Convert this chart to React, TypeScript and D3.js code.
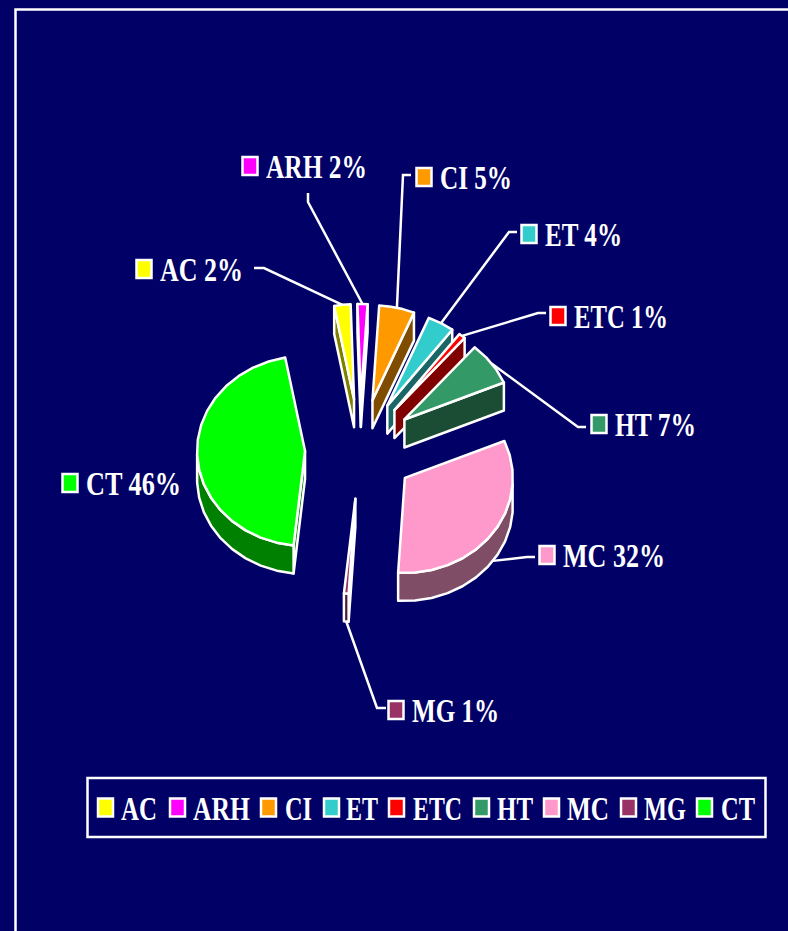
import * as d3 from "d3";

const categories = ["AC", "ARH", "CI", "ET", "ETC", "HT", "MC", "MG", "CT"];
const shares = [2.45, 1.5, 5.3, 4.0, 1.0, 7.4, 32.45, 0.7, 45.5];
const colors = ["#ffff00", "#ff00ff", "#ff9900", "#33cccc", "#ff0000", "#339966", "#ff99cc", "#993366", "#00ff00"];

const WIDTH = 788;
const HEIGHT = 931;
const BG = "#000066";
const FONT = "'Liberation Serif', 'Times New Roman', serif";

// pie geometry: flattened circle, every slice pulled out the same way
const CX = 360;
const CY = 449;
const RX = 108;
const RY = 95;
const DEPTH = 28;
const EXPLODE_X = 55;
const EXPLODE_Y = 50;
const START_ANGLE = (-10.6 * Math.PI) / 180;

// label boxes, same order as categories: swatch x, swatch y, text width, leader elbow
const labelX = [136, 242, 416, 521, 550, 591, 539, 388, 62];
const labelY = [260, 157, 168, 225, 307, 415, 546, 701, 474];
const labelWidth = [83, 101, 72, 77, 94, 81, 102, 87, 95];
const leaderStart: ([number, number] | null)[] = [[254, 268], [308, 193], [411, 175], [517, 232], [546, 313], [586, 427], [535, 557], [386, 708], null];
const leaderElbow: ([number, number] | null)[] = [[264, 268], [308, 202], [403, 175], [509, 232], [538, 313], [578, 427], [527, 557], [377, 708], null];

// legend row
const legendSwatchX = [97, 169, 260, 323, 388, 473, 543, 620, 696];
const legendTextX = [121, 193, 285, 346, 413, 497, 567, 644, 721];
const legendTextW = [36, 57, 27, 32, 49, 36, 42, 42, 34];

const pie = d3
  .pie<number>()
  .sort(null)
  .startAngle(START_ANGLE)
  .endAngle(START_ANGLE + Math.PI * 2);

const arcs = pie(shares);

type Pt = [number, number];

const dark = (c: string) => {
  const r = d3.rgb(c);
  return d3.rgb(r.r * 0.5, r.g * 0.5, r.b * 0.5).formatHex();
};

const line = d3.line<Pt>();

export default function App() {
  const slices = arcs.map((a, i) => {
    const mid = (a.startAngle + a.endAngle) / 2;
    const tip: Pt = [CX + EXPLODE_X * Math.sin(mid), CY - EXPLODE_Y * Math.cos(mid)];
    const at = (t: number, dy = 0): Pt => [tip[0] + RX * Math.sin(t), tip[1] - RY * Math.cos(t) + dy];
    const down = (p: Pt): Pt => [p[0], p[1] + DEPTH];

    // coarse steps, the original rim is visibly faceted
    const n = Math.max(2, Math.ceil((a.endAngle - a.startAngle) / 0.16));
    const ts = d3.range(n + 1).map((k) => a.startAngle + ((a.endAngle - a.startAngle) * k) / n);
    const rim = ts.map((t) => at(t));
    const top = line([tip, ...rim])! + "Z";

    const walls: string[] = [];
    const norm = (t: number) => ((t % (Math.PI * 2)) + Math.PI * 2) % (Math.PI * 2);
    // cut faces, only those turned towards the viewer
    if (Math.sin(a.endAngle) > 0.02) {
      const e = at(a.endAngle);
      walls.push(line([tip, e, down(e), down(tip)])! + "Z");
    }
    if (Math.sin(a.startAngle) < -0.02) {
      const s = at(a.startAngle);
      walls.push(line([tip, s, down(s), down(tip)])! + "Z");
    }
    // outer rim, lower half of the ellipse
    const front = ts.filter((t) => {
      const v = norm(t);
      return v >= Math.PI / 2 && v <= (Math.PI * 3) / 2;
    });
    if (front.length > 1) {
      const upper = front.map((t) => at(t));
      const lower = upper.map(down).reverse();
      walls.push(line([...upper, ...lower])! + "Z");
    }

    const leaderEnd = i === 6 || i === 7 ? at(mid, DEPTH) : at(mid);
    return { top, walls, color: colors[i], leaderEnd };
  });

  return (
    <svg
      width={WIDTH}
      height={HEIGHT}
      style={{ position: "absolute", left: 0, top: 0, display: "block" }}
      fontFamily={FONT}
      fontWeight="bold"
    >
      <rect width={WIDTH} height={HEIGHT} fill={BG} />
      {/* outer frame runs off the right and bottom */}
      <path d={`M15.5,${HEIGHT + 5}V9.5H${WIDTH + 5}`} fill="none" stroke="#fff" strokeWidth={2.5} />

      {/* leaders */}
      {slices.map((s, i) =>
        leaderStart[i] ? (
          <path
            key={categories[i]}
            d={line([leaderStart[i]!, leaderElbow[i]!, s.leaderEnd])!}
            fill="none"
            stroke="#fff"
            strokeWidth={2.5}
          />
        ) : null,
      )}

      {/* slices */}
      {slices.map((s, i) => (
        <g key={categories[i]} stroke="#fff" strokeWidth={2.5} strokeLinejoin="round">
          {s.walls.map((d, k) => (
            <path key={k} d={d} fill={dark(s.color)} />
          ))}
          <path d={s.top} fill={s.color} />
        </g>
      ))}

      {/* data labels */}
      {categories.map((c, i) => (
        <g key={c}>
          <rect x={labelX[i] + 0.5} y={labelY[i]} width={15} height={18} fill={colors[i]} stroke="#fff" strokeWidth={2.5} />
          <text
            x={labelX[i] + 24}
            y={labelY[i] + 21}
            fill="#fff"
            fontSize={33}
            textLength={labelWidth[i]}
            lengthAdjust="spacingAndGlyphs"
          >
            {`${c} ${Math.round(shares[i])}%`}
          </text>
        </g>
      ))}

      {/* legend */}
      <rect x={87.5} y={778} width={678} height={59} fill="none" stroke="#fff" strokeWidth={2.5} />
      {categories.map((c, i) => (
        <g key={c}>
          <rect x={legendSwatchX[i] + 1} y={798.5} width={15} height={18} fill={colors[i]} stroke="#fff" strokeWidth={2.5} />
          <text
            x={legendTextX[i]}
            y={820}
            fill="#fff"
            fontSize={33}
            textLength={legendTextW[i]}
            lengthAdjust="spacingAndGlyphs"
          >
            {c}
          </text>
        </g>
      ))}
    </svg>
  );
}
